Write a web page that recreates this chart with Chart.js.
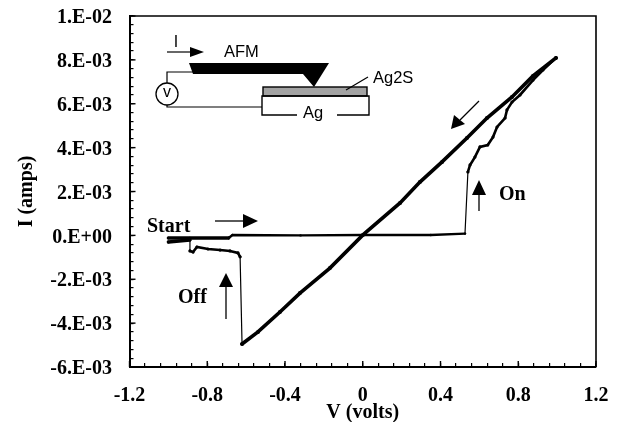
<!DOCTYPE html>
<html><head><meta charset="utf-8">
<style>html,body{margin:0;padding:0;background:#fff}canvas{display:block}</style>
<script src="https://cdn.jsdelivr.net/npm/chart.js@4"></script></head>
<body><canvas id="c" width="622" height="422"></canvas>
<script>
const xTickValues=[-1.2,-0.8,-0.4,0,0.4,0.8,1.2];
const xTickLabels=['-1.2','-0.8','-0.4','0','0.4','0.8','1.2'];
const yTickValues=[-6,-4,-2,0,2,4,6,8,10];
const yTickLabels=['-6.E-03','-4.E-03','-2.E-03','0.E+00','2.E-03','4.E-03','6.E-03','8.E-03','1.E-02'];
const leadV=[-1.0,-0.89,-0.69];
const leadI=[-0.00012,-0.00012,-0.00012];
const startV=[-0.69,-0.67,-0.32,0.0,0.35,0.526];
const startI=[-0.00012,0.00002,0.0,0.00002,0.00002,0.00008];
const onJumpV=[0.526,0.541];
const onJumpI=[0.00008,0.00289];
const onRampV=[0.541,0.552,0.577,0.603,0.643,0.670,0.691,0.732,0.742,0.768,0.809,0.876,0.927,0.994];
const onRampI=[0.00289,0.00321,0.00357,0.00403,0.00412,0.00448,0.00494,0.00535,0.00572,0.00608,0.0064,0.00708,0.00754,0.00809];
const returnV=[0.994,0.876,0.768,0.639,0.536,0.408,0.294,0.192,0.001,-0.169,-0.323,-0.426,-0.539,-0.621];
const returnI=[0.00809,0.00727,0.00631,0.00535,0.00444,0.00335,0.00243,0.00148,0.00002,-0.00149,-0.00263,-0.00349,-0.0044,-0.00495];
const offJumpV=[-0.621,-0.631];
const offJumpI=[-0.00495,-0.00098];
const offFlatV=[-0.631,-0.642,-0.683,-0.734,-0.796,-0.853,-0.873,-0.889];
const offFlatI=[-0.00098,-0.0008,-0.00071,-0.00067,-0.00062,-0.00053,-0.00076,-0.00071];
const endJumpV=[-0.889,-0.889];
const endJumpI=[-0.00071,-0.00021];
const endV=[-0.889,-1.0];
const endI=[-0.00021,-0.0003];

const INK='#000';
const SERIF='"Liberation Serif"';
const SANS='"Liberation Sans"';
const pts=(v,i)=>v.map((x,k)=>({x,y:i[k]}));
const ds=(v,i,w,r)=>({data:pts(v,i),borderColor:INK,backgroundColor:INK,borderWidth:w,pointRadius:r,pointHoverRadius:r,pointBorderWidth:0,tension:0,showLine:true,borderCapStyle:'round'});
const near=(a,b)=>Math.abs(a-b)<1e-6;
const majorX=v=>xTickValues.findIndex(t=>near(t,v));
const majorY=v=>yTickValues.findIndex(t=>near(t*1e-3,v));
const noPad=s=>{s.paddingLeft=s.paddingRight=s.paddingTop=s.paddingBottom=0;};

function poly(c,p,fill){c.beginPath();p.forEach((q,k)=>k?c.lineTo(q[0],q[1]):c.moveTo(q[0],q[1]));c.closePath();if(fill){c.fill();}}
function line(c,p,w){c.lineWidth=w;c.beginPath();p.forEach((q,k)=>k?c.lineTo(q[0],q[1]):c.moveTo(q[0],q[1]));c.stroke();}
function text(c,s,x,y,font,align){c.font=font;c.textAlign=align||'left';c.textBaseline='middle';c.fillText(s,x,y);}

const frame={id:'frame',
 beforeDraw(ch){
  ch.scales.y.getLabelItems(ch.chartArea).forEach(it=>{it.options.translation[1]+=2;});
 },
 afterDraw(ch){
  const c=ch.ctx,a=ch.chartArea;c.save();c.strokeStyle=INK;c.fillStyle=INK;
  line(c,[[a.left,a.top],[a.right,a.top],[a.right,a.bottom]],1.6);
  xTickValues.forEach(v=>{const x=ch.scales.x.getPixelForValue(v);line(c,[[x,a.bottom],[x,a.bottom-6]],1.4);});
  yTickValues.forEach(v=>{const y=ch.scales.y.getPixelForValue(v*1e-3);line(c,[[a.left,y],[a.left+6,y]],1.4);});
  text(c,'I',176,43,'16px '+SANS,'center');
  line(c,[[167,52],[192,52]],1.2);
  poly(c,[[204,52],[190,47],[190,57]],true);
  text(c,'AFM',224,52,'16.5px '+SANS);
  poly(c,[[189,63],[329,63],[314,87],[303,74],[193,74]],true);
  line(c,[[193,72],[167,72],[167,83]],1.2);
  c.lineWidth=1.3;c.beginPath();c.arc(167,94,11,0,Math.PI*2);c.stroke();
  text(c,'v',167,93,'16px '+SANS,'center');
  line(c,[[167,105],[167,107],[262,107]],1.2);
  c.fillStyle='#a3a3a3';c.fillRect(263,87,104,9);c.fillStyle=INK;
  c.lineWidth=1.4;c.strokeRect(263,87,104,9);
  line(c,[[297,115],[262,115],[262,96],[369,96],[369,115],[337,115]],1.4);
  text(c,'Ag',313,113,'16.5px '+SANS,'center');
  line(c,[[346,90],[368,77]],1.2);
  text(c,'Ag2S',373,78,'16.5px '+SANS);
  text(c,'Start',147,227,'bold 20px '+SERIF);
  line(c,[[215,221],[245,221]],1.3);
  poly(c,[[258,221],[243,214],[243,228]],true);
  text(c,'Off',178,298,'bold 20px '+SERIF);
  line(c,[[226,319],[226,284]],1.3);
  poly(c,[[226,273],[219,287],[233,287]],true);
  text(c,'On',499,195,'bold 20px '+SERIF);
  line(c,[[479,211],[479,193]],1.3);
  poly(c,[[479,180],[472,195],[486,195]],true);
  line(c,[[479,101],[460,120]],1.3);
  poly(c,[[451,129],[454,115],[465,124]],true);
  c.restore();
}};

new Chart(document.getElementById('c'),{
  type:'scatter',
  data:{datasets:[
    ds(leadV,leadI,3.4,1.3),ds(startV,startI,2.4,1.2),ds(onJumpV,onJumpI,1.2,0),ds(onRampV,onRampI,2.6,1.6),
    ds(returnV,returnI,3.6,2),ds(offJumpV,offJumpI,1.2,0),ds(offFlatV,offFlatI,2.6,1.6),
    ds(endJumpV,endJumpI,1.2,0),ds(endV,endI,3.4,1.5)
  ]},
  plugins:[frame],
  options:{
    responsive:false,animation:false,
    layout:{padding:{left:0,right:26,top:16,bottom:0}},
    plugins:{legend:{display:false},tooltip:{enabled:false}},
    scales:{
      x:{type:'linear',min:-1.2,max:1.2,
        afterFit(s){s.height=55;noPad(s);},
        afterBuildTicks(s){s.ticks=[];for(let k=0;k<=30;k++)s.ticks.push({value:Math.round((-1.2+k*0.08)*100)/100});},
        border:{color:INK,width:2},
        grid:{drawOnChartArea:false,drawTicks:true,tickLength:-4,color:INK,lineWidth:1.2},
        ticks:{autoSkip:false,maxRotation:0,padding:21,color:INK,font:{family:SERIF,weight:'bold',size:20},
          callback(v){const k=majorX(v);return k<0?'':xTickLabels[k];}},
        title:{display:true,text:'V (volts)',color:INK,font:{family:SERIF,weight:'bold',size:20},padding:{top:0,bottom:-3}}
      },
      y:{type:'linear',min:-0.006,max:0.01,
        afterFit(s){s.width=129.5;noPad(s);},
        afterBuildTicks(s){s.ticks=[];for(let k=0;k<=40;k++)s.ticks.push({value:(-6+k*0.4)*1e-3});},
        border:{color:INK,width:2},
        grid:{drawOnChartArea:false,drawTicks:true,tickLength:-4,color:INK,lineWidth:1.2},
        ticks:{autoSkip:false,padding:21.5,color:INK,font:{family:SERIF,weight:'bold',size:20},
          callback(v){const k=majorY(v);return k<0?'':yTickLabels[k];}},
        title:{display:true,text:'I (amps)',color:INK,font:{family:SERIF,weight:'bold',size:20},padding:{top:15,bottom:0}}
      }
    }
  }
});
</script></body></html>
